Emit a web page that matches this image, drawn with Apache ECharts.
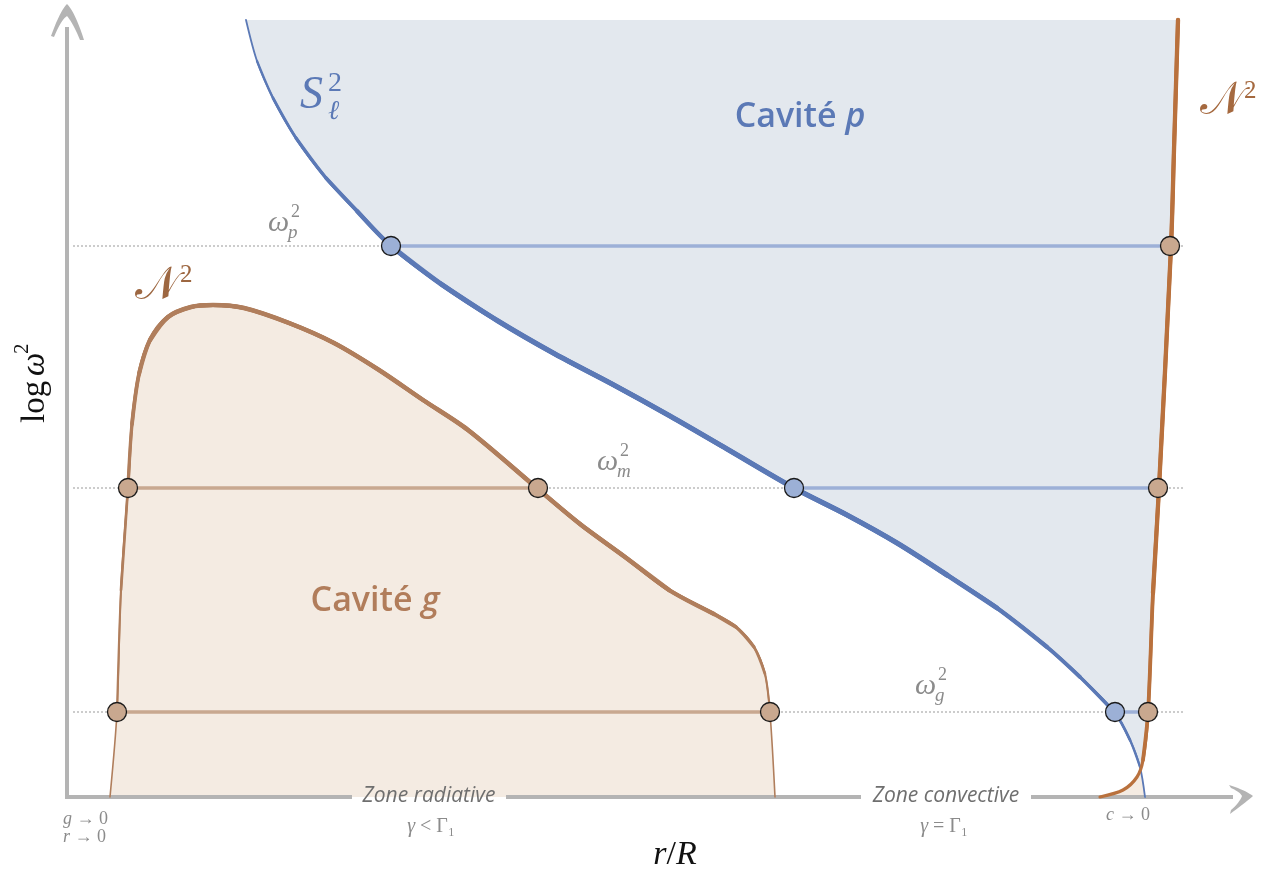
<!DOCTYPE html>
<html>
<head>
<meta charset="utf-8">
<script src="https://cdn.jsdelivr.net/npm/echarts@6/dist/echarts.min.js"></script>
<style>html,body{margin:0;padding:0;background:#fff;}#chart{width:1269px;height:875px;}</style>
</head>
<body>
<div id="chart"></div>
<script>
// ---------- data (schematic units: x ~ r/R, y ~ log ω²) ----------
const sCurve = [[179,777],[190,736],[206,699],[229,659],[259,619],[290,586],[324,551],[374,513],[431,476],[488,443],[545,413],[603,381],[660,348],[727,309],[780,282],[830,254],[880,222],[930,189],[980,150],[1013,120],[1048,84],[1063,57],[1073,30],[1078,0]];
const nCore = [[43,0],[50,85],[54,207],[61,310],[65,373],[72,423],[83,457],[101,480],[124,490],[146,492],[177,489],[222,474],[267,454],[312,427],[356,397],[401,367],[471,308],[513,273],[558,240],[602,207],[647,183],[669,170],[687,150],[698,123],[703,84],[708,0]];
const nEnv = [[1033,0],[1056,7],[1070,20],[1076,37],[1081,84],[1086,204],[1092,309],[1104,550],[1107,647],[1111,777]];
const modeName = ['p','m','g'];
const modeLevel = [551,309,85];
const gBranch = [null,[61,471],[50,703]];
const pBranch = [[324,1103],[727,1091],[1048,1081]];

// ---------- styling ----------
const C = {blue:'#5b79b6', blueFill:'#e3e8ee', blueMode:'#9db0d7', blueDot:'#9cb0d6',
  brown:'#b07e5c', brownEnv:'#b9713d', brownFill:'#f4ebe2', brownMode:'#c8a890', brownDot:'#c9a88f',
  axis:'#b4b4b4', dotted:'#9a9a9a', math:'#8b8b8b', zone:'#6f6f6f'};
const serif = '"Liberation Serif","DejaVu Serif",serif';
const sans = '"Open Sans","Noto Sans",sans-serif';

function crossing(a, b) {
  for (let i = 0; i < a.length - 1; i++) for (let j = 0; j < b.length - 1; j++) {
    const [x1,y1]=a[i],[x2,y2]=a[i+1],[x3,y3]=b[j],[x4,y4]=b[j+1];
    const d=(x1-x2)*(y3-y4)-(y1-y2)*(x3-x4);
    if (!d) continue;
    const t=((x1-x3)*(y3-y4)-(y1-y3)*(x3-x4))/d;
    const u=-((x1-x2)*(y1-y3)-(y1-y2)*(x1-x3))/d;
    if (t>=0&&t<=1&&u>=0&&u<=1) return [x1+t*(x2-x1), y1+t*(y2-y1)];
  }
  return null;
}
const cross = crossing(sCurve, nEnv);
const upper = sCurve.filter(p=>p[1]>cross[1]).concat([cross], nEnv.filter(p=>p[1]>cross[1]));
const lower = nEnv.filter(p=>p[1]<cross[1]).concat([cross], sCurve.filter(p=>p[1]<cross[1]));

function line(data, color, width, z, extra) {
  return Object.assign({type:'line', data, symbol:'none', smooth:0.3,
    silent:true, animation:false, clip:false, z,
    lineStyle:{color, width, cap:'round', join:'round'}}, extra||{});
}
function area(data, color, origin, z) {
  return line(data, color, 0, z, {areaStyle:{color, opacity:1, origin}, lineStyle:{width:0, opacity:0}});
}
// tapered stroke: successive inner slices drawn thicker
function tapered(data, color, widths, z) {
  return widths.map((w, k) => line(data.slice(k, data.length - k), color, w, z));
}

const series = [];
series.push(area(upper, C.blueFill, 'end', 1));
series.push(area(nCore, C.brownFill, 'start', 1));
series.push(area(lower, C.brownFill, 'start', 1));

// dotted guide lines
modeLevel.forEach(y => series.push({type:'line', data:[[6,y],[1116,y]], symbol:'none', silent:true, animation:false, z:2,
  lineStyle:{color:C.dotted, width:1, type:[2,2]}}));
// mode segments
const brownDots = [], blueDots = [];
modeLevel.forEach((y,i) => {
  if (gBranch[i]) {
    series.push(line([[gBranch[i][0],y],[gBranch[i][1],y]], C.brownMode, 3.5, 3, {smooth:false}));
    brownDots.push([gBranch[i][0],y],[gBranch[i][1],y]);
  }
  series.push(line([[pBranch[i][0],y],[pBranch[i][1],y]], C.blueMode, 3.5, 3, {smooth:false}));
  blueDots.push([pBranch[i][0],y]); brownDots.push([pBranch[i][1],y]);
});

// axes (x axis interrupted by zone labels)
const axisSegs = [[0,285],[439,794],[964,1166]];
axisSegs.forEach(s => series.push({type:'line', data:[[s[0],0],[s[1],0]], symbol:'none', silent:true, animation:false, clip:false, z:4,
  lineStyle:{color:C.axis, width:4, cap:'butt'}}));
series.push({type:'line', data:[[0,-2],[0,770]], symbol:'none', silent:true, animation:false, clip:false, z:4,
  lineStyle:{color:C.axis, width:4, cap:'butt'}});

// curves with tapered widths
series.push(...tapered(sCurve, C.blue, [1.8, 2.3, 2.8, 3.3, 3.8, 4.3, 4.8, 5.1], 5));
series.push(...tapered(nCore, C.brown, [1.6, 2.1, 2.7, 3.3, 3.8, 4.2, 4.5], 5));
series.push(line(nEnv, C.brownEnv, 3.2, 5));
series.push(line(nEnv.slice(3), C.brownEnv, 3.8, 5));
series.push(line(nEnv.slice(5), C.brownEnv, 4.3, 5));

// arrow heads
function quad(p0, c, p1, n) {
  const out = [];
  for (let k = 0; k <= n; k++) { const t = k/n, a=(1-t)*(1-t), b=2*(1-t)*t, d=t*t;
    out.push([a*p0[0]+b*c[0]+d*p1[0], a*p0[1]+b*c[1]+d*p1[1]]); }
  return out;
}
const upArrow = [].concat(quad([-16,31],[-7,6],[0,-1],10), quad([0,-1],[8,7],[17,35],10),
  quad([13,35],[6,18],[0,11],10), quad([0,11],[-6,15],[-13,32],10));
const rightArrow = [].concat(quad([-23,-11],[-7,-6],[1,0],10), quad([1,0],[-7,7],[-22,18],10),
  quad([-21,14],[-12,6],[-10,0],10), quad([-10,0],[-12,-4],[-21,-8],10));
series.push({type:'custom', coordinateSystem:'cartesian2d', silent:true, animation:false, z:4,
  data:[[0,792,0],[1185,1,1]],
  renderItem:(params, api) => {
    const p = api.coord([api.value(0), api.value(1)]);
    const pts = (api.value(2) === 0 ? upArrow : rightArrow).map(q => [p[0]+q[0], p[1]+q[1]]);
    return {type:'polygon', shape:{points:pts}, style:{fill:C.axis}};
  }});

// turning-point dots
series.push({type:'scatter', data:brownDots, symbolSize:19, silent:true, animation:false, z:6,
  itemStyle:{color:C.brownDot, borderColor:'#1a1a1a', borderWidth:1.3, opacity:1}});
series.push({type:'scatter', data:blueDots, symbolSize:19, silent:true, animation:false, z:6,
  itemStyle:{color:C.blueDot, borderColor:'#1a1a1a', borderWidth:1.3, opacity:1}});

// ---------- text ----------
function T(text, x, y, font, fill, align, extra) {
  return Object.assign({type:'text', x, y, z:100, silent:true,
    style:{text, font, fill, align:align||'left', verticalAlign:'middle'}}, extra||{});
}
function R(text, x, y, font, fill, align, rich) {
  const t = T(text, x, y, font, fill, align); t.style.rich = rich; return t;
}
const it18 = {i:{font:`italic 18px ${serif}`, fill:C.math}};
const it20 = {i:{font:`italic 20px ${serif}`, fill:C.math}};
const graphic = [
  {type:'group', x:35, y:380, rotation:Math.PI/2, z:100, children:[
    T('log', -43, 0, `33px ${serif}`, '#111'),
    T('ω', 4, 0, `italic 33px ${serif}`, '#111'),
    T('2', 26, -13, `21px ${serif}`, '#111')
  ]},
  R('{i|r}/{i|R}', 675, 855, `34px ${serif}`, '#111', 'center', {i:{font:`italic 34px ${serif}`, fill:'#111'}}),
  R('{i|g} → 0', 63, 819, `18px ${serif}`, C.math, 'left', it18),
  R('{i|r} → 0', 63, 837, `18px ${serif}`, C.math, 'left', it18),
  R('{i|c} → 0', 1128, 815, `18px ${serif}`, C.math, 'center', it18),
  T('Zone radiative', 429, 796, `italic 21px ${sans}`, C.zone, 'center'),
  T('Zone convective', 946, 796, `italic 21px ${sans}`, C.zone, 'center'),
  R('{i|γ} < Γ₁', 431, 827, `20px ${serif}`, C.math, 'center', it20),
  R('{i|γ} = Γ₁', 944, 827, `20px ${serif}`, C.math, 'center', it20),
  // S_l^2
  T('S', 300, 96, `italic 46px ${serif}`, C.blue),
  T('2', 328, 84, `28px ${serif}`, C.blue),
  T('ℓ', 328, 112, `italic 27px ${serif}`, C.blue),
  // N^2 labels
  T('𝒩', 135, 287, `46px ${serif}`, '#9d6741'),
  T('2', 180, 275, `25px ${serif}`, '#9d6741'),
  T('𝒩', 1200, 102, `46px ${serif}`, '#a5693f'),
  T('2', 1244, 91, `25px ${serif}`, '#a5693f'),
  // cavities
  R('Cavité {i|p}', 800, 117, `600 34px ${sans}`, C.blue, 'center', {i:{font:`italic 600 34px ${sans}`, fill:C.blue}}),
  R('Cavité {i|g}', 375, 601, `600 34px ${sans}`, '#b17d5b', 'center', {i:{font:`italic 600 34px ${sans}`, fill:'#b17d5b'}})
];
// omega labels
const omegaPos = [[268,223],[597,462],[915,686]];
modeName.forEach((n,i) => {
  const [x,y] = omegaPos[i];
  graphic.push(T('ω', x, y, `italic 30px ${serif}`, C.math));
  graphic.push(T('2', x+23, y-11, `18px ${serif}`, C.math));
  graphic.push(T(n, x+20, y+10, `italic 19px ${serif}`, C.math));
});

const chart = echarts.init(document.getElementById('chart'));
chart.setOption({
  animation:false,
  backgroundColor:'#ffffff',
  grid:{left:67, right:0, top:20, bottom:78},
  xAxis:{type:'value', min:0, max:1202, show:false},
  yAxis:{type:'value', min:0, max:777, show:false},
  series,
  graphic
});
</script>
</body>
</html>
